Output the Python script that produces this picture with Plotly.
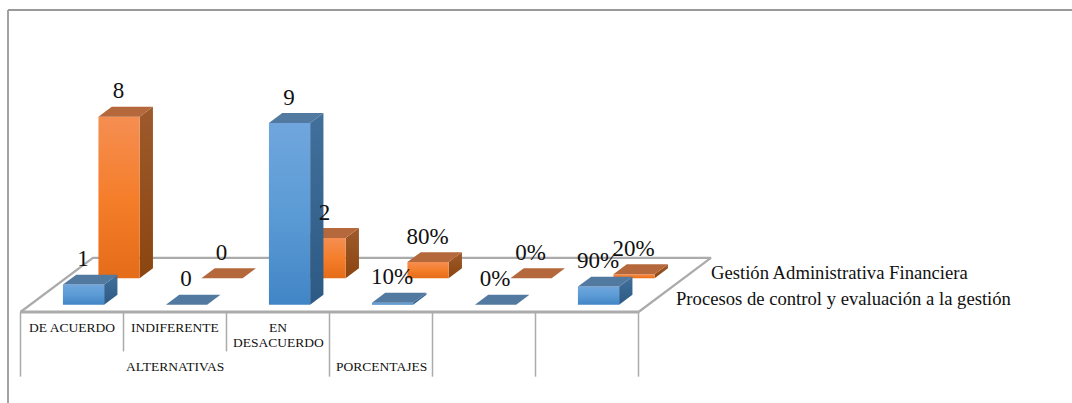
import plotly.graph_objects as go

# Chart values
categories = [["DE ACUERDO"], ["INDIFERENTE"], ["EN", "DESACUERDO"], [""], [""], [""]]
groups = ["ALTERNATIVAS", "PORCENTAJES"]
group_centers = [1.5, 3.5]
series_names = ["Procesos de control y evaluación a la gestión",
                "Gestión Administrativa Financiera"]
procesos = [1, 0, 9, 0.1, 0, 0.9]
gestion = [8, 0, 2, 0.8, 0, 0.2]
procesos_labels = ["1", "0", "9", "10%", "0%", "90%"]
gestion_labels = ["8", "0", "2", "80%", "0%", "20%"]

# Oblique projection of the 3-D plot box: one depth unit shifts a point
# right along x and up along the value axis.
DEPTH_X = 0.3447
DEPTH_Y = 1.312
BAR_W = 0.40
BAR_D = 0.375
BAR_SHIFT = 0.018
BAR_Z = 0.46
N = len(procesos)
Z_MAX = 2.04

GREY = "#ababab"
FONT = "Liberation Serif"

PALETTE = {
    0: dict(front=["#4285c6", "#5b9bd5", "#70a6dd"], side=["#2c5a85", "#42709c"], top="#52799f"),
    1: dict(front=["#e56c18", "#f57e2b", "#f58e52"], side=["#8a4510", "#9f5a2c"], top="#b5683c"),
}


def proj(x, z, v):
    return x + DEPTH_X * z, v + DEPTH_Y * z


fig = go.Figure()


def line(points, width=2.2, color=GREY):
    xs, ys = zip(*points)
    fig.add_trace(go.Scatter(x=xs, y=ys, mode="lines",
                             line=dict(color=color, width=width),
                             hoverinfo="skip", showlegend=False))


def face(points, solid=None, ramp=None):
    xs, ys = zip(*points)
    kw = dict(fillcolor=solid) if solid else dict(
        fillgradient=dict(type="vertical",
                          colorscale=[[i / (len(ramp) - 1), c] for i, c in enumerate(ramp)]))
    fig.add_trace(go.Scatter(x=xs + xs[:1], y=ys + ys[:1], mode="lines", fill="toself",
                             line=dict(width=0), hoverinfo="skip", showlegend=False, **kw))


def bar(cat, series, value):
    colors = PALETTE[series]
    x0 = cat + 0.5 + BAR_SHIFT - BAR_W / 2
    x1 = cat + 0.5 + BAR_SHIFT + BAR_W / 2
    z0 = series + BAR_Z - BAR_D / 2
    z1 = series + BAR_Z + BAR_D / 2
    if value > 0:
        face([proj(x1, z0, 0), proj(x1, z1, 0), proj(x1, z1, value), proj(x1, z0, value)],
             ramp=colors["side"])
        face([proj(x0, z0, 0), proj(x1, z0, 0), proj(x1, z0, value), proj(x0, z0, value)],
             ramp=colors["front"])
    face([proj(x0, z0, value), proj(x1, z0, value), proj(x1, z1, value), proj(x0, z1, value)],
         solid=colors["top"])


# Floor of the plot box
line([proj(0, 0, 0), proj(0, Z_MAX, 0), proj(N, Z_MAX, 0), proj(N, 0, 0)])
line([proj(0, 0, 0), proj(N, 0, 0)], width=3)

# Category separators hanging below the floor
for i in range(N + 1):
    bottom = -1.95 if i in (1, 2) else -3.2
    line([proj(i, 0, 0), proj(i, 0, bottom)], width=1.5)

# Bars, back series first so the front series overlaps it
for s, values in ((1, gestion), (0, procesos)):
    for c, v in enumerate(values):
        bar(c, s, v)

# Value labels above each bar
for s, values, labels in ((1, gestion, gestion_labels), (0, procesos, procesos_labels)):
    xs, ys = [], []
    for c, v in enumerate(values):
        px, py = proj(c + 0.5, s + 0.5 - BAR_D / 2, v)
        xs.append(px)
        ys.append(py + 1.14)
    fig.add_trace(go.Scatter(x=xs, y=ys, mode="text", text=labels,
                             textposition="middle center",
                             textfont=dict(family=FONT, size=23, color="#111111"),
                             hoverinfo="skip", showlegend=False))

# Category and group labels
for c, parts in enumerate(categories):
    for k, part in enumerate(parts):
        if part:
            fig.add_annotation(x=c + 0.5, y=-0.78 - 0.74 * k, text=part, showarrow=False,
                               font=dict(family=FONT, size=13.5, color="#111111"))
for center, name in zip(group_centers, groups):
    fig.add_annotation(x=center, y=-2.72, text=name, showarrow=False,
                       font=dict(family=FONT, size=13.5, color="#111111"))

# Depth-axis series names
for s, name in enumerate(series_names):
    px, py = proj(N, s + 0.5, 0)
    fig.add_annotation(x=px + 0.17, y=py, text=name, showarrow=False, xanchor="left",
                       font=dict(family=FONT, size=18.65, color="#111111"))

# Chart frame
fig.add_shape(type="line", xref="paper", yref="paper", x0=8 / 1072, x1=8 / 1072, y0=0, y1=393 / 403,
              line=dict(color="#999999", width=1.8))
fig.add_shape(type="line", xref="paper", yref="paper", x0=8 / 1072, x1=1, y0=393 / 403, y1=393 / 403,
              line=dict(color="#999999", width=1.8))

fig.update_layout(
    width=1072, height=403, margin=dict(l=0, r=0, t=0, b=0),
    paper_bgcolor="white", plot_bgcolor="white", showlegend=False,
    xaxis=dict(visible=False, range=[-20.5 / 103, (1072 - 20.5) / 103]),
    yaxis=dict(visible=False, range=[(312 - 403) / 20.2, 312 / 20.2]),
)

fig.write_html("out.html")
